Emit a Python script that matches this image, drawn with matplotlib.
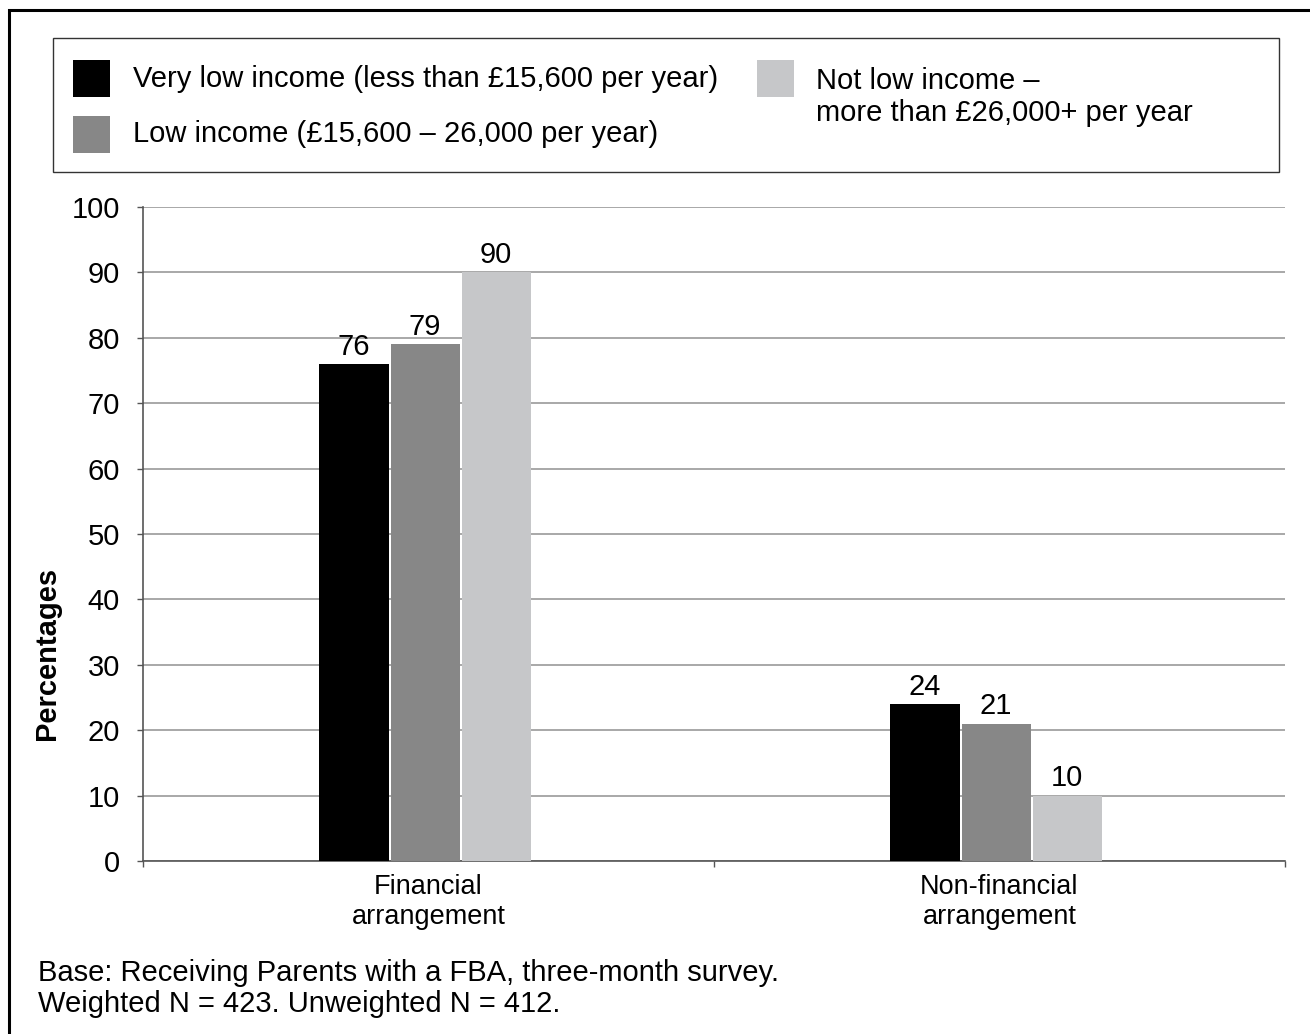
import matplotlib
matplotlib.use("Agg")
import matplotlib.pyplot as plt
import matplotlib.patches as mpatches
import numpy as np

plt.rcParams['font.family'] = ['Liberation Sans', 'DejaVu Sans']

# Data
categories = ["Financial\narrangement", "Non-financial\narrangement"]
series_names = [
    "Very low income (less than £15,600 per year)",
    "Low income (£15,600 – 26,000 per year)",
    "Not low income –\nmore than £26,000+ per year",
]
very_low = [76, 24]
low = [79, 21]
not_low = [90, 10]
y_ticks = [0, 10, 20, 30, 40, 50, 60, 70, 80, 90, 100]
footnote = ["Base: Receiving Parents with a FBA, three-month survey.",
            "Weighted N = 423. Unweighted N = 412."]

colors = ["#000000", "#878787", "#c6c7c9"]
values = [very_low, low, not_low]

W, H = 1310, 1034
DPI = 100
fig = plt.figure(figsize=(W / DPI, H / DPI), dpi=DPI)
FS = 21


def fx(px):
    return px / W


def fy(py):
    return 1 - py / H


# Outer frame
fig.patches.append(mpatches.Rectangle((fx(9), -0.05), 1.2, fy(10) + 0.05,
                                      transform=fig.transFigure, fill=False,
                                      edgecolor="black", linewidth=2.2))

ax = fig.add_axes([fx(143), fy(861), fx(1285) - fx(143), fy(207) - fy(861)])

x = np.arange(len(categories))
bw = 0.121
gap = 0.0035
shift = -0.006
offsets = [-(bw + gap), 0, (bw + gap)]
for vals, col, off in zip(values, colors, offsets):
    bars = ax.bar(x + off + shift, vals, width=bw, color=col, zorder=3)
    for rect, v in zip(bars, vals):
        ax.text(rect.get_x() + rect.get_width() / 2, v + 0.5, f"{v}",
                ha="center", va="bottom", fontsize=FS, zorder=4)

ax.set_xlim(-0.5, 1.5)
ax.set_ylim(0, 100)
ax.set_yticks(y_ticks)
ax.tick_params(axis="y", labelsize=FS, length=4.5, width=1, color="#555555",
               pad=12)
ax.yaxis.grid(True, color="#999999", linewidth=1.2, zorder=0)
ax.set_axisbelow(True)

# Category boundaries carry the x ticks; labels sit at category centres
ax.set_xticks([-0.5, 0.5, 1.5])
ax.set_xticklabels([])
ax.set_xticks(x, minor=True)
ax.set_xticklabels(categories, minor=True, fontsize=19.5, linespacing=1.2)
ax.tick_params(axis="x", which="major", length=4.5, width=1, color="#555555")
ax.tick_params(axis="x", which="minor", length=0, pad=9)

for s in ["top", "right"]:
    ax.spines[s].set_visible(False)
for s in ["left", "bottom"]:
    ax.spines[s].set_color("#555555")
    ax.spines[s].set_linewidth(1.2)

fig.text(fx(47), fy(653), "Percentages", rotation=90, ha="center",
         va="center", fontsize=FS, fontweight="bold")

# Legend box
fig.patches.append(mpatches.Rectangle((fx(53), fy(172)), fx(1279) - fx(53),
                                      fy(38) - fy(172),
                                      transform=fig.transFigure, fill=False,
                                      edgecolor="#333333", linewidth=1.0))
leg_pos = [(73, 60, 133, 79), (73, 116, 133, 134), (757, 60, 816, 97)]
for name, col, (sx, sy, tx, ty) in zip(series_names, colors, leg_pos):
    fig.patches.append(mpatches.Rectangle((fx(sx), fy(sy + 37)), fx(37),
                                          37 / H, transform=fig.transFigure,
                                          facecolor=col, edgecolor="none"))
    fig.text(fx(tx), fy(ty), name, ha="left", va="center",
             fontsize=FS, linespacing=1.2)

fig.text(fx(38), fy(973), footnote[0], ha="left", va="center", fontsize=FS)
fig.text(fx(38), fy(1004), footnote[1], ha="left", va="center", fontsize=FS)

fig.savefig("out.png", dpi=DPI)
